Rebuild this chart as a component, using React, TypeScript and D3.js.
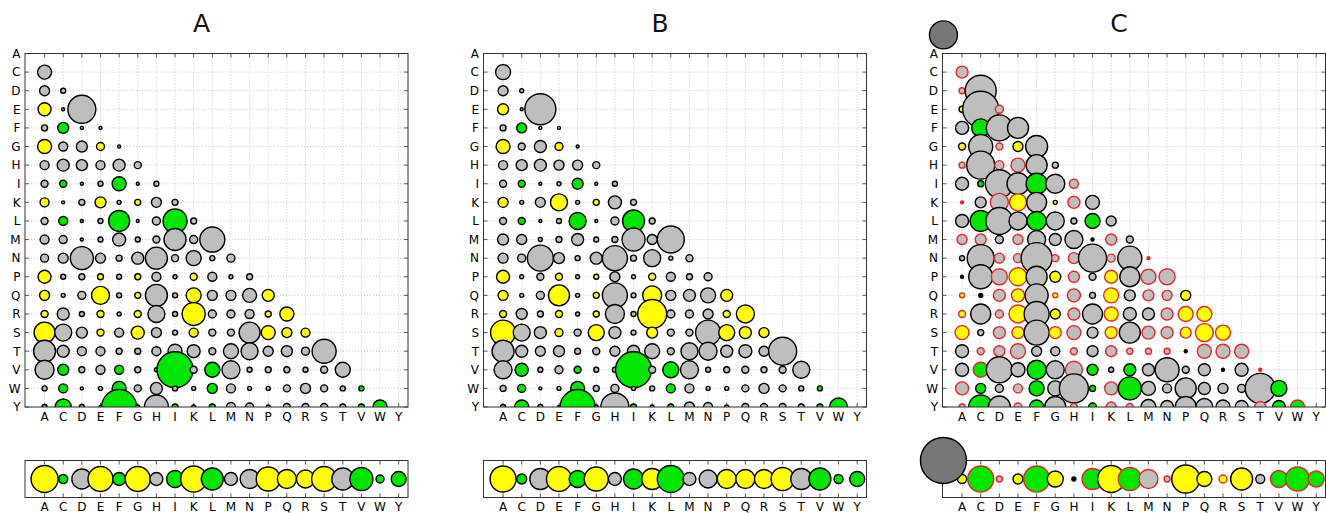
import React from "react";
import * as d3 from "d3";

// Amino-acid residues (axis categories)
const residues = ["A","C","D","E","F","G","H","I","K","L","M","N","P","Q","R","S","T","V","W","Y"];
const panelTitles = ["A", "B", "C"];

// Token: fill (Y yellow, S grey, G green, K black dot, R red dot) + size value + optional "r" (red edge)
const matrixA = [
  "",
  "S7",
  "S5 S2.5",
  "Y6.5 S1.5 S14",
  "S3 G5.5 S1.5 S1.5",
  "Y7 S4.5 S5.5 Y4 S1.5",
  "S4.5 S6 S5.5 S4.5 S6 S3.5",
  "S3.5 G3.5 S1.5 S2.5 G7 S1.5 S2.5",
  "Y4.5 S1.5 S3 Y5.5 S2 Y3 S5 S3",
  "S3.5 G4.5 S1.5 S2.5 G10.5 S1.5 S4 G12 S3",
  "S4.5 S4 S1.5 S2.5 S6.5 S2.5 S3.5 S11 S4 S12.5",
  "S4 S5 S11.5 S5 S3 S6 S11 S3.5 S7.5 S2.5 S4",
  "Y6.5 S2.5 S3 Y3 S2.5 Y3 S4.5 S2 Y3.5 S4.5 S2 S3",
  "Y5 S2 S4 Y9 S2.5 Y3 S11 S2.5 Y7.5 S5 S5 S7 Y6",
  "Y3.5 S6 S2.5 Y3.5 S2 Y3.5 S8.5 S2.5 Y11.5 S4 S4 S4.5 Y3 Y7",
  "Y10.5 S8.5 S5.5 Y3.5 S4.5 Y6.5 S5 S2.5 Y4.5 S3.5 S3.5 S10.5 Y7 Y5 Y4.5",
  "S11 S6 S4.5 S4.5 S3 S3 S4.5 S7 S6.5 S3.5 S7.5 S8.5 S5 S5.5 S4 S12",
  "S9.5 G5.5 S3 S4.5 G4.5 S3 S2 G18 S3.5 G7.5 S9 S2.5 S3 S3 S2.5 S3.5 S7.5",
  "S2.5 G4.5 S1.5 S2 G7 S3.5 S6 S2.5 S2 G5 S4.5 S2 S2 S3.5 S5 S3.5 S2.5 G2.5",
  "S2.5 G8 S2.5 S1.5 G17.5 S2 S12 G3 S2 G3 S4.5 S4 S2 S3.5 S3.5 S3.5 S3 G3 G7",
];

const matrixB = [
  "",
  "S7.5",
  "S5 S2",
  "Y5.5 S1.5 S15.5",
  "S3 G5 S1.5 S1.5",
  "Y7 S3.5 S6 Y4 S1.5",
  "S4.5 S5.5 S6 S5 S5 S3.5",
  "S3.5 G3.5 S1.5 S2 G5.5 S1.5 S2.5",
  "Y5 S2 S5 Y8.5 S2 Y3 S6.5 S3",
  "S3.5 G3.5 S1.5 S2.5 G8.5 S1.5 S4 G11 S3",
  "S5.5 S5 S2 S3 S6 S2.5 S3 S11.5 S5 S13.5",
  "S5 S4 S13 S5.5 S2.5 S6 S12.5 S3 S8.5 S2 S3.5",
  "Y6.5 S2 S3.5 Y3.5 S2 Y2.5 S5 S2 Y3.5 S4.5 S3 S4",
  "Y5 S2 S4 Y10.5 S2 Y3 S12.5 S2.5 Y9.5 S5 S6 S7.5 Y6",
  "Y3.5 S5.5 S3 Y3.5 S2 Y3 S9.5 S2.5 Y14.5 S4 S4 S5 Y3.5 Y9",
  "Y12.5 S8.5 S6 Y4 S3.5 Y8 S6 S2.5 Y5.5 S3.5 S3.5 S12.5 Y8 Y6 Y5",
  "S11 S6 S5 S5.5 S3 S3.5 S5 S6 S7.5 S3.5 S8.5 S9 S6 S6.5 S5 S14",
  "S9 G6.5 S2.5 S4 G3.5 S2.5 S2.5 G18 S3.5 G8 S9 S2.5 S3 S3.5 S3 S3.5 S8.5",
  "S3 G4 S1.5 S2 G7 S3 S4 S2 S2.5 G4.5 S4.5 S2 S2 S3.5 S5 S3.5 S2.5 G2.5",
  "S2.5 G7 S2.5 S1.5 G17.5 S2 S14 G3 S2 G3 S5 S4.5 S2 S3.5 S3.5 S3.5 S3 G3 G9",
];

const matrixC = [
  "",
  "S6r",
  "S3r S15.5",
  "Y3 S18 S4r",
  "S6.5 G9 S13 S10.5",
  "Y3.5 S12 S3.5r Y5 S11",
  "S3r S14 S4.5r S7r S10.5 S3",
  "S6.5 G3 S14 S11 G10.5 S9.5 S4.5r",
  "R1.5 S5.5 S9r Y8.5r S10 Y2 S6r S7",
  "S6.5 G10.5 S13.5 S9 G9.5 S9 S3 G7.5 S5",
  "S5r S5.5r S4 S5r S9 S6 S9 K1.5 S5.5r S3.5",
  "S2.5 S13.5 S5r S4.5r S15.5 S3.5r S5.5r S14 S4r S12 R1.5",
  "K1.5 S12 S8r Y9r S10.5 Y5.5 S5.5r S3.5 Y6.5r S10 S7.5r S8r",
  "Y2.5r K2 S6r Y6.5r S11.5 Y2.5r S6.5r S3 Y7.5r S5.5 S5.5r S5r Y5",
  "Y3.5r S10 S4r Y9r S12.5 Y5 S6r S10 Y7r S6.5 S6 S6r Y7.5r Y7.5r",
  "Y7r S3 S6r Y6r S12.5 Y6r S7r S5.5 Y6r S10.5 S6.5r S6r Y5.5r Y9r Y7.5r",
  "S6.5 S3.5r S5.5r S7.5r S5 S4.5 S3.5r S5.5 S5.5r S3r S3r S3r K1.5 S7r S7r S7r",
  "S6.5 G7.5r S13 S7 G9.5 S9 S8.5r G5.5 S2.5 G6 S6 S12 S3.5 S6 K1.5 S6.5 R1.5",
  "S6.5r G5 S4 S4.5r G7.5 S7.5 S14.5 G3 S6.5r G11.5 S7 S4.5 S10.5 S6 S5 S4 S15 G8",
  "S3r G12 S11 S4r G7 S10.5 S3.5r G4 S5r S3.5r S7.5 S6.5 S10.5 S8.5 S7 S6.5 S5.5r G6.5 G7r",
];

const stripA = "Y13.5 G4.5 S10 Y12.5 G6.5 Y12.5 S6.5 G8.5 Y13 G11 S6.5 S9.5 Y12 Y9.5 Y9 Y12.5 S11 G11.5 G4 G7.5";
const stripB = "Y13 G5 S10.5 Y12.5 G8.5 Y12 S6.5 G10 Y10.5 G13.5 S6.5 S9 Y9.5 Y9.5 Y9.5 Y11.5 S10.5 G11 G4.5 G7.5";
const stripC = "Y4.5 G13r S3r Y5 G13r Y8 K2 G10.5r Y13.5 G11.5r S9.5r S3r Y14 Y7.5 Y4r Y11 S4.5 G8.5r G12r G8r";

// Reference-size circles drawn only in panel C (main, strip)
const legendSizes = [14, 23];

const matrices = [matrixA, matrixB, matrixC];
const strips = [stripA, stripB, stripC];

const FILL: Record<string, string> = {
  Y: "#ffff00",
  S: "#bebebe",
  G: "#00e600",
  K: "#000000",
  R: "#e3262b",
};
const RED = "#e3262b";

function parse(tok: string) {
  const m = tok.match(/^([YSGKR])([\d.]+)(r?)$/);
  if (!m) return { fill: "S", v: 0, red: false };
  return { fill: m[1], v: +m[2], red: m[3] === "r" || m[1] === "R" };
}

const W = 1326;
const H = 513;
const LEFTS = [25, 483.5, 942.5];
const PW = 383;
const MT = 53.5;
const MB = 407;
const ST = 460.5;
const SB = 497.5;

function Panel({ idx }: { idx: number }) {
  const left = LEFTS[idx];
  const right = left + PW;
  const x = d3.scaleLinear().domain([-1.05, 19.5]).range([left, right]);
  const y = d3.scaleLinear().domain([0, 19]).range([MT, MB]);
  const sy = d3.scaleLinear().domain([-1, 1]).range([ST, SB]);
  const step = x(1) - x(0);
  const r = d3.scaleLinear().domain([0, 18.64]).range([0, step]);
  const cols = d3.range(residues.length);

  const cells = matrices[idx].flatMap((row, i) =>
    row ? row.split(" ").map((t, j) => ({ ...parse(t), i, j })) : []
  );
  const stripCells = strips[idx].split(" ").map((t, j) => ({ ...parse(t), j }));
  const clipId = `clip-${idx}`;
  const grid = { stroke: "#a5a5a5", strokeWidth: 0.6, strokeDasharray: "1,2" };
  const tick = { stroke: "#333", strokeWidth: 0.8 };

  return (
    <g>
      <defs>
        <clipPath id={clipId}>
          <rect x={left} y={MT} width={PW} height={MB - MT} />
        </clipPath>
      </defs>
      <text x={left + PW / 2 - 15} y={31.5} fontSize={25} textAnchor="middle" fill="#111">
        {panelTitles[idx]}
      </text>
      {cols.map((j) => (
        <line key={`gv${j}`} x1={x(j)} x2={x(j)} y1={MT} y2={MB} {...grid} />
      ))}
      {cols.map((i) => (
        <line key={`gh${i}`} x1={left} x2={right} y1={y(i)} y2={y(i)} {...grid} />
      ))}
      {cols.map((j) => (
        <g key={`t${j}`}>
          <line x1={x(j)} x2={x(j)} y1={MT} y2={MT + 4} {...tick} />
          <line x1={x(j)} x2={x(j)} y1={MB} y2={MB - 4} {...tick} />
          <line x1={left} x2={left + 4} y1={y(j)} y2={y(j)} {...tick} />
          <line x1={right} x2={right - 4} y1={y(j)} y2={y(j)} {...tick} />
        </g>
      ))}
      <g clipPath={`url(#${clipId})`}>
        {cells.map((c, k) => (
          <circle
            key={k}
            cx={x(c.j)}
            cy={y(c.i)}
            r={r(c.v)}
            fill={FILL[c.fill]}
            stroke={c.red ? RED : "#000"}
            strokeWidth={1.4}
          />
        ))}
      </g>
      <rect x={left} y={MT} width={PW} height={MB - MT} fill="none" stroke="#333" strokeWidth={1} />
      {residues.map((a, i) => (
        <text key={`yl${i}`} x={left - 4.5} y={y(i)} dy="0.36em" fontSize={12} textAnchor="end" fill="#000">
          {a}
        </text>
      ))}
      {residues.map((a, j) => (
        <text key={`xl${j}`} x={x(j)} y={421} fontSize={12} textAnchor="middle" fill="#000">
          {a}
        </text>
      ))}
      {cols.map((j) => (
        <g key={`s${j}`}>
          <line x1={x(j)} x2={x(j)} y1={ST} y2={SB} {...grid} />
          <line x1={x(j)} x2={x(j)} y1={ST} y2={ST + 4} {...tick} />
          <line x1={x(j)} x2={x(j)} y1={SB} y2={SB - 4} {...tick} />
        </g>
      ))}
      <rect x={left} y={ST} width={PW} height={SB - ST} fill="none" stroke="#333" strokeWidth={1} />
      {stripCells.map((c, k) => (
        <circle
          key={`sc${k}`}
          cx={x(c.j)}
          cy={sy(0)}
          r={r(c.v)}
          fill={FILL[c.fill]}
          stroke={c.red ? RED : "#000"}
          strokeWidth={1.4}
        />
      ))}
      {residues.map((a, j) => (
        <text key={`sl${j}`} x={x(j)} y={511} fontSize={12} textAnchor="middle" fill="#000">
          {a}
        </text>
      ))}
      {idx === 2 && (
        <g>
          <circle cx={x(-1)} cy={y(-1)} r={r(legendSizes[0])} fill="#777" stroke="#000" strokeWidth={1.4} />
          <circle cx={x(-1)} cy={sy(-1)} r={r(legendSizes[1])} fill="#777" stroke="#000" strokeWidth={1.4} />
        </g>
      )}
    </g>
  );
}

export default function App() {
  return (
    <svg
      width={W}
      height={H}
      style={{ position: "absolute", left: 0, top: 0, background: "#fff" }}
      fontFamily="'DejaVu Sans', sans-serif"
    >
      <rect x={0} y={0} width={W} height={H} fill="#fff" />
      {[0, 1, 2].map((i) => (
        <Panel key={i} idx={i} />
      ))}
    </svg>
  );
}
